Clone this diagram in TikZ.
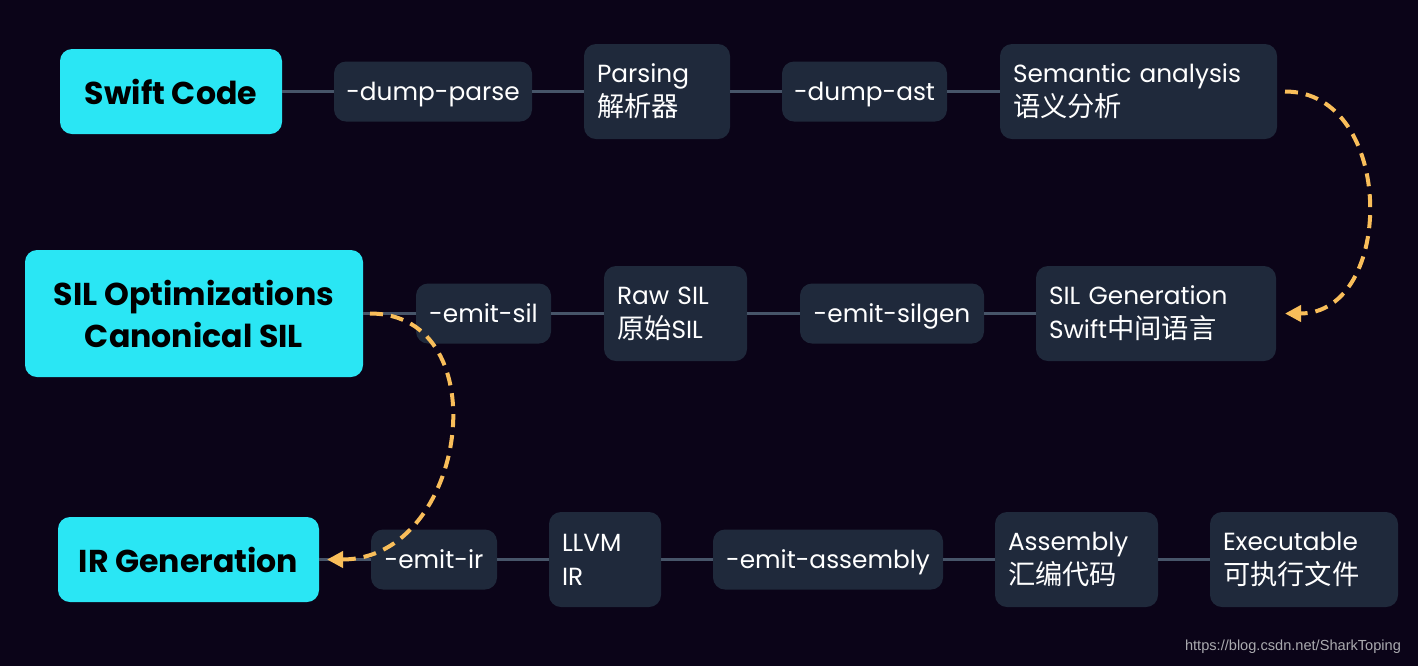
\documentclass[tikz,border=0pt]{standalone}
\usepackage{fontspec}
\setmainfont{Poppins}
\newfontfamily\cjk[Scale=1.1]{Noto Sans CJK SC}
\newfontfamily\wmfont{Liberation Sans}
\usetikzlibrary{positioning,arrows.meta}

\definecolor{bgnavy}{RGB}{11,4,24}
\definecolor{stagecyan}{RGB}{42,230,244}
\definecolor{boxslate}{RGB}{31,41,59}
\definecolor{linkslate}{RGB}{71,85,105}
\definecolor{hopgold}{RGB}{249,190,90}
\definecolor{wmgray}{RGB}{170,170,175}

\tikzset{
  stage/.style={fill=stagecyan, text=black, rounded corners=6pt, inner sep=0pt, outer sep=0pt,
    align=center, font=\fontsize{15.8}{21}\selectfont\bfseries},
  flag/.style={fill=boxslate, text=white, rounded corners=6pt, inner sep=0pt, outer sep=0pt,
    minimum height=30pt, text height=10pt, text depth=1.5pt, font=\fontsize{12.4}{17}\selectfont},
  phase/.style={fill=boxslate, text=white, rounded corners=6pt, inner xsep=6.5pt, outer sep=0pt,
    inner ysep=0pt, minimum height=47.5pt, align=left, font=\fontsize{12.4}{17}\selectfont},
  link/.style={draw=linkslate, line width=1.75pt},
  hop/.style={draw=hopgold, line width=2pt, dash pattern=on 6.5pt off 4pt,
    -{Triangle[length=8pt,width=8pt]}}
}

\begin{document}
\begin{tikzpicture}[x=0.5pt,y=-0.5pt]
  \fill[bgnavy] (0,0) rectangle (1418,666);% page background

  % front end
  \node[stage, minimum width=111pt, minimum height=42.5pt, anchor=west] (swift) at (60,91.5) {Swift Code};
  \node[flag, minimum width=99pt, right=26pt of swift] (dumpparse) {-dump-parse};
  \node[phase, text width=60pt, right=26pt of dumpparse] (parsing) {Parsing\\{\cjk 解析器}};
  \node[flag, minimum width=82.5pt, right=26pt of parsing] (dumpast) {-dump-ast};
  \node[phase, text width=125.5pt, right=26.5pt of dumpast] (semantic) {Semantic analysis\\{\cjk 语义分析}};

  % SIL
  \node[stage, minimum width=169pt, minimum height=63.5pt, anchor=west] (silopt) at (25,313.5) {SIL Optimizations\\Canonical SIL};
  \node[flag, minimum width=67.5pt, right=26.5pt of silopt] (emitsil) {-emit-sil};
  \node[phase, text width=58.5pt, right=26.5pt of emitsil] (rawsil) {Raw SIL\\{\cjk 原始}SIL};
  \node[flag, minimum width=92pt, right=26.5pt of rawsil] (emitsilgen) {-emit-silgen};
  \node[phase, text width=107pt, right=26pt of emitsilgen] (silgen) {SIL Generation\\Swift{\cjk 中间语言}};

  % back end
  \node[stage, minimum width=130.5pt, minimum height=42.5pt, anchor=west] (irgen) at (58,559.5) {IR Generation};
  \node[flag, minimum width=63pt, right=26pt of irgen] (emitir) {-emit-ir};
  \node[phase, text width=43pt, right=26pt of emitir] (llvm) {LLVM\\IR};
  \node[flag, minimum width=115pt, right=26pt of llvm] (emitasm) {-emit-assembly};
  \node[phase, text width=68.5pt, right=26pt of emitasm] (assembly) {Assembly\\{\cjk 汇编代码}};
  \node[phase, text width=81pt, right=26pt of assembly] (executable) {Executable\\{\cjk 可执行文件}};

  \foreach \a/\b in {swift/dumpparse, dumpparse/parsing, parsing/dumpast, dumpast/semantic,
                     silopt/emitsil, emitsil/rawsil, rawsil/emitsilgen, emitsilgen/silgen,
                     irgen/emitir, emitir/llvm, llvm/emitasm, emitasm/assembly, assembly/executable}
    \draw[link] (\a) -- (\b);

  % row to row jumps
  \draw[hop] ([xshift=4pt]semantic.east) .. controls +(55.5pt,0) and +(55.5pt,0) .. ([xshift=4.5pt]silgen.east);
  \draw[hop] ([xshift=3.5pt]silopt.east) .. controls +(65pt,0) and +(70.5pt,0) .. ([xshift=4pt]irgen.east);

  \node[font=\wmfont\fontsize{7.3}{9}\selectfont, text=wmgray, anchor=east] (credit) at (1408,647) {https://blog.csdn.net/SharkToping};
\end{tikzpicture}
\end{document}
